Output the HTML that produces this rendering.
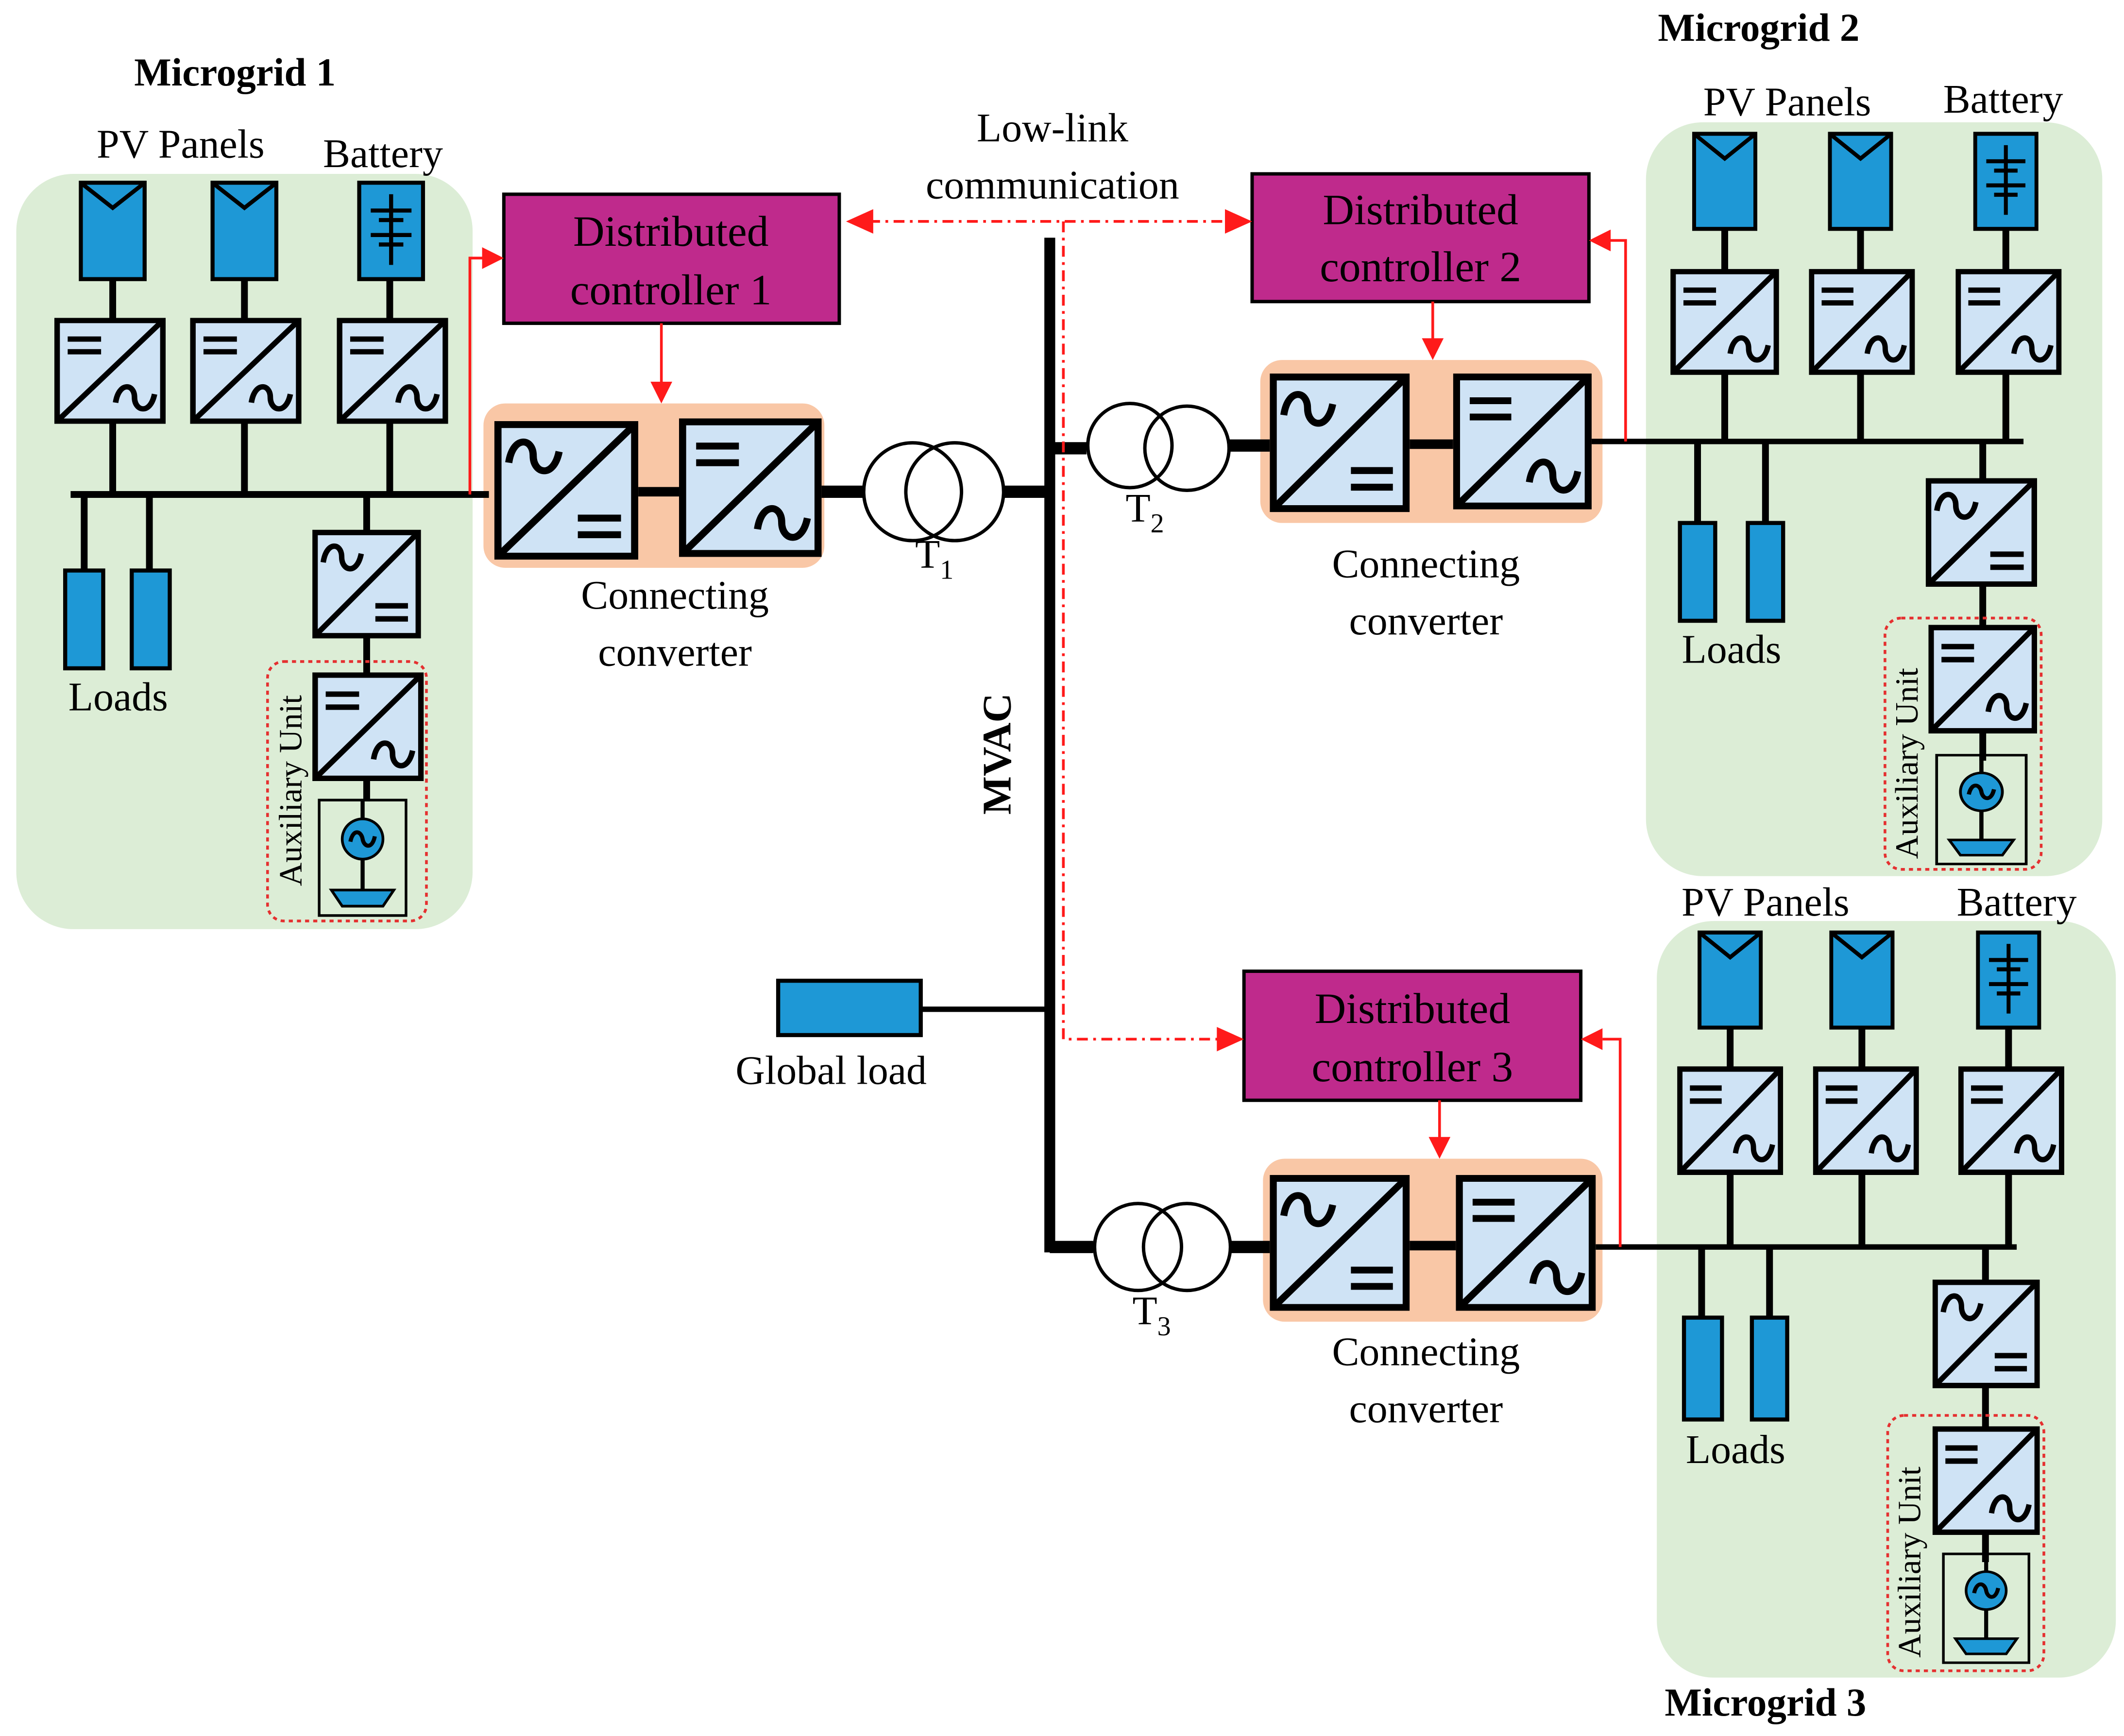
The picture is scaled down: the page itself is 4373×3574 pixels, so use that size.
<!DOCTYPE html>
<html><head><meta charset="utf-8"><style>html,body{margin:0;padding:0;background:#fff}svg{display:block}</style></head>
<body>
<svg width="4373" height="3574" viewBox="0 0 1564 1278" preserveAspectRatio="none" xmlns="http://www.w3.org/2000/svg" font-family="'Liberation Serif',serif">
<defs>
<symbol id="dcac" viewBox="0 0 100 100" preserveAspectRatio="none">
<rect x="2.5" y="2.5" width="95" height="95" fill="#cfe3f5" stroke="#000" stroke-width="5"/>
<line x1="2" y1="98" x2="98" y2="2" stroke="#000" stroke-width="5"/>
<line x1="12" y1="20" x2="42" y2="20" stroke="#000" stroke-width="5"/>
<line x1="12" y1="32" x2="42" y2="32" stroke="#000" stroke-width="5"/>
<path d="M55,80 C58,60 72,62 72,75 S86,92 90,72" fill="none" stroke="#000" stroke-width="5"/>
</symbol>
<symbol id="acdc" viewBox="0 0 100 100" preserveAspectRatio="none">
<rect x="2.5" y="2.5" width="95" height="95" fill="#cfe3f5" stroke="#000" stroke-width="5"/>
<line x1="2" y1="98" x2="98" y2="2" stroke="#000" stroke-width="5"/>
<path d="M10,30 C13,10 27,12 27,25 S41,42 45,22" fill="none" stroke="#000" stroke-width="5"/>
<line x1="58" y1="70" x2="88" y2="70" stroke="#000" stroke-width="5"/>
<line x1="58" y1="82" x2="88" y2="82" stroke="#000" stroke-width="5"/>
</symbol>
<symbol id="pv" viewBox="0 0 50 74" preserveAspectRatio="none">
<rect x="1.5" y="1.5" width="47" height="71" fill="#1e98d6" stroke="#000" stroke-width="3"/>
<polyline points="2,2 25,20 48,2" fill="none" stroke="#000" stroke-width="3"/>
</symbol>
<symbol id="bat" viewBox="0 0 50 74" preserveAspectRatio="none">
<rect x="1.5" y="1.5" width="47" height="71" fill="#1e98d6" stroke="#000" stroke-width="3"/>
<line x1="25" y1="10" x2="25" y2="62" stroke="#000" stroke-width="3"/>
<line x1="10" y1="22" x2="40" y2="22" stroke="#000" stroke-width="3"/>
<line x1="16" y1="29" x2="34" y2="29" stroke="#000" stroke-width="3"/>
<line x1="10" y1="40" x2="40" y2="40" stroke="#000" stroke-width="3"/>
<line x1="16" y1="47" x2="34" y2="47" stroke="#000" stroke-width="3"/>
</symbol>
<symbol id="gen" viewBox="0 0 66 88" preserveAspectRatio="none">
<rect x="1" y="1" width="64" height="86" fill="none" stroke="#000" stroke-width="2"/>
<line x1="33" y1="0" x2="33" y2="70" stroke="#000" stroke-width="3"/>
<circle cx="33" cy="30" r="15" fill="#1e98d6" stroke="#000" stroke-width="2"/>
<path d="M24,32 C26,22 32,24 33,30 S40,38 42,28" fill="none" stroke="#000" stroke-width="3"/>
<polygon points="10,68 56,68 48,80 18,80" fill="#1e98d6" stroke="#000" stroke-width="2"/>
</symbol>
<marker id="ar" viewBox="0 0 10 10" refX="9" refY="5" markerWidth="6" markerHeight="6" orient="auto-start-reverse" markerUnits="userSpaceOnUse">
</marker>
</defs>

<!-- backgrounds -->
<rect x="12" y="128" width="336" height="556" rx="42" fill="#dcedd6"/>
<rect x="1212" y="90" width="336" height="555" rx="42" fill="#dcedd6"/>
<rect x="1220" y="678" width="338" height="557" rx="42" fill="#dcedd6"/>

<!-- orange boxes -->
<rect x="356" y="297" width="251" height="121" rx="16" fill="#f9c7a6"/>
<rect x="928" y="265" width="252" height="120" rx="16" fill="#f9c7a6"/>
<rect x="930" y="853" width="250" height="120" rx="16" fill="#f9c7a6"/>

<g stroke="#000" fill="none">
<!-- MG1 wiring -->
<line x1="52" y1="364" x2="360" y2="364" stroke-width="5"/>
<line x1="83" y1="205" x2="83" y2="364" stroke-width="5"/>
<line x1="180" y1="205" x2="180" y2="364" stroke-width="5"/>
<line x1="287" y1="205" x2="287" y2="364" stroke-width="5"/>
<line x1="62" y1="364" x2="62" y2="420" stroke-width="5"/>
<line x1="110" y1="364" x2="110" y2="420" stroke-width="5"/>
<line x1="270" y1="364" x2="270" y2="590" stroke-width="5"/>
<line x1="470" y1="362" x2="500" y2="362" stroke-width="7"/>
<line x1="605" y1="362" x2="636" y2="362" stroke-width="9"/>
<line x1="738" y1="362" x2="773" y2="362" stroke-width="9"/>
<!-- MVAC -->
<line x1="773" y1="175" x2="773" y2="922" stroke-width="8"/>
<line x1="678" y1="743" x2="773" y2="743" stroke-width="4"/>
<!-- T2 -->
<line x1="773" y1="330" x2="800" y2="330" stroke-width="9"/>
<line x1="905" y1="328" x2="935" y2="328" stroke-width="9"/>
<line x1="1038" y1="327" x2="1070" y2="327" stroke-width="7"/>
<line x1="1172" y1="325" x2="1490" y2="325" stroke-width="4"/>
<line x1="1270" y1="168" x2="1270" y2="325" stroke-width="5"/>
<line x1="1370" y1="168" x2="1370" y2="325" stroke-width="5"/>
<line x1="1477" y1="168" x2="1477" y2="325" stroke-width="5"/>
<line x1="1250" y1="325" x2="1250" y2="385" stroke-width="5"/>
<line x1="1300" y1="325" x2="1300" y2="385" stroke-width="5"/>
<line x1="1460" y1="325" x2="1460" y2="560" stroke-width="5"/>
<!-- T3 -->
<line x1="773" y1="918" x2="805" y2="918" stroke-width="9"/>
<line x1="905" y1="918" x2="935" y2="918" stroke-width="9"/>
<line x1="1038" y1="917" x2="1072" y2="917" stroke-width="7"/>
<line x1="1175" y1="918" x2="1485" y2="918" stroke-width="4"/>
<line x1="1274" y1="756" x2="1274" y2="918" stroke-width="5"/>
<line x1="1371" y1="756" x2="1371" y2="918" stroke-width="5"/>
<line x1="1479" y1="756" x2="1479" y2="918" stroke-width="5"/>
<line x1="1253" y1="918" x2="1253" y2="970" stroke-width="5"/>
<line x1="1303" y1="918" x2="1303" y2="970" stroke-width="5"/>
<line x1="1462" y1="918" x2="1462" y2="1150" stroke-width="5"/>
<!-- transformers -->
<g stroke-width="2.5">
<circle cx="672" cy="362" r="36"/><circle cx="703" cy="362" r="36"/>
<circle cx="832" cy="328" r="31"/><circle cx="874" cy="330" r="31"/>
<circle cx="838" cy="918" r="32"/><circle cx="874" cy="918" r="32"/>
</g>
</g>

<!-- sources -->
<use href="#pv" x="58" y="133" width="50" height="74"/>
<use href="#pv" x="155" y="133" width="50" height="74"/>
<use href="#bat" x="263" y="133" width="50" height="74"/>
<use href="#pv" x="1246" y="97" width="48" height="73"/>
<use href="#pv" x="1346" y="97" width="48" height="73"/>
<use href="#bat" x="1453" y="97" width="48" height="73"/>
<use href="#pv" x="1250" y="685" width="48" height="73"/>
<use href="#pv" x="1347" y="685" width="48" height="73"/>
<use href="#bat" x="1455" y="685" width="48" height="73"/>

<!-- converters -->
<use href="#dcac" x="40" y="234" width="82" height="78"/>
<use href="#dcac" x="140" y="234" width="82" height="78"/>
<use href="#dcac" x="248" y="234" width="82" height="78"/>
<use href="#acdc" x="230" y="390" width="80" height="80"/>
<use href="#dcac" x="230" y="495" width="82" height="80"/>
<use href="#acdc" x="364" y="310" width="106" height="102"/>
<use href="#dcac" x="500" y="308" width="105" height="102"/>
<use href="#dcac" x="1230" y="198" width="80" height="78"/>
<use href="#dcac" x="1332" y="198" width="78" height="78"/>
<use href="#dcac" x="1440" y="198" width="78" height="78"/>
<use href="#acdc" x="1418" y="352" width="82" height="80"/>
<use href="#dcac" x="1420" y="460" width="80" height="80"/>
<use href="#acdc" x="935" y="275" width="103" height="102"/>
<use href="#dcac" x="1070" y="275" width="102" height="100"/>
<use href="#dcac" x="1235" y="785" width="78" height="80"/>
<use href="#dcac" x="1335" y="785" width="78" height="80"/>
<use href="#dcac" x="1442" y="785" width="78" height="80"/>
<use href="#acdc" x="1423" y="942" width="79" height="80"/>
<use href="#dcac" x="1423" y="1050" width="79" height="80"/>
<use href="#acdc" x="935" y="865" width="103" height="100"/>
<use href="#dcac" x="1072" y="865" width="103" height="100"/>

<!-- generators -->
<use href="#gen" x="234" y="588" width="66" height="87"/>
<use href="#gen" x="1425" y="555" width="68" height="82"/>
<use href="#gen" x="1430" y="1143" width="65" height="82"/>

<!-- loads -->
<g fill="#1e98d6" stroke="#000" stroke-width="3">
<rect x="48" y="420" width="28" height="72"/><rect x="97" y="420" width="28" height="72"/>
<rect x="1237" y="385" width="26" height="72"/><rect x="1287" y="385" width="26" height="72"/>
<rect x="1240" y="970" width="28" height="75"/><rect x="1290" y="970" width="26" height="75"/>
<rect x="573" y="722" width="105" height="40"/>
</g>

<!-- aux dashed -->
<g fill="none" stroke="#e53030" stroke-width="2" stroke-dasharray="3,3">
<rect x="197" y="487" width="117" height="191" rx="12"/>
<rect x="1388" y="455" width="115" height="185" rx="12"/>
<rect x="1390" y="1042" width="115" height="188" rx="12"/>
</g>

<!-- controllers -->
<g fill="#bf2a8c" stroke="#000" stroke-width="2.5">
<rect x="371" y="143" width="247" height="95"/>
<rect x="922" y="128" width="248" height="94"/>
<rect x="916" y="715" width="248" height="95"/>
</g>

<!-- red control lines -->
<g stroke="#ff1a1a" stroke-width="2" fill="none">
<polyline points="346,364 346,190 360,190"/>
<line x1="487" y1="238" x2="487" y2="285"/>
<polyline points="1197,325 1197,177 1185,177"/>
<line x1="1055" y1="222" x2="1055" y2="253"/>
<polyline points="1193,918 1193,765 1180,765"/>
<line x1="1060" y1="810" x2="1060" y2="840"/>
<g stroke-dasharray="8,4,2,4">
<line x1="640" y1="163" x2="905" y2="163"/>
<polyline points="783,163 783,765 900,765"/>
</g>
</g>
<g fill="#ff1a1a">
<polygon points="371,190 355,182 355,198"/>
<polygon points="487,297 479,281 495,281"/>
<polygon points="1170,177 1186,169 1186,185"/>
<polygon points="1055,265 1047,249 1063,249"/>
<polygon points="1164,765 1180,757 1180,773"/>
<polygon points="1060,853 1052,837 1068,837"/>
<polygon points="623,163 643,154 643,172"/>
<polygon points="922,163 902,154 902,172"/>
<polygon points="916,765 896,756 896,774"/>
</g>

<!-- texts -->
<g font-size="30" fill="#000" text-anchor="middle">
<text x="173" y="63" font-weight="bold" font-size="29">Microgrid 1</text>
<text x="133" y="116">PV Panels</text>
<text x="282" y="123">Battery</text>
<text x="87" y="523">Loads</text>
<text x="497" y="448">Connecting</text>
<text x="497" y="490">converter</text>
<text x="494" y="181" font-size="32">Distributed</text>
<text x="494" y="224" font-size="32">controller 1</text>
<text x="1046" y="165" font-size="32">Distributed</text>
<text x="1046" y="207" font-size="32">controller 2</text>
<text x="1040" y="753" font-size="32">Distributed</text>
<text x="1040" y="796" font-size="32">controller 3</text>
<text x="775" y="104">Low-link</text>
<text x="775" y="146">communication</text>
<text x="688" y="418">T<tspan font-size="20" dy="8">1</tspan></text>
<text x="843" y="384">T<tspan font-size="20" dy="8">2</tspan></text>
<text x="848" y="975">T<tspan font-size="20" dy="8">3</tspan></text>
<text x="612" y="798">Global load</text>
<text transform="translate(744,555) rotate(-90)" font-weight="bold" font-size="30">MVAC</text>
<text x="1295" y="30" font-weight="bold" font-size="29">Microgrid 2</text>
<text x="1316" y="85">PV Panels</text>
<text x="1475" y="83">Battery</text>
<text x="1050" y="425">Connecting</text>
<text x="1050" y="467">converter</text>
<text x="1275" y="488">Loads</text>
<text x="1300" y="674">PV Panels</text>
<text x="1485" y="674">Battery</text>
<text x="1050" y="1005">Connecting</text>
<text x="1050" y="1047">converter</text>
<text x="1278" y="1077">Loads</text>
<text x="1300" y="1263" font-weight="bold" font-size="29">Microgrid 3</text>
<g font-size="24">
<text transform="translate(222,582) rotate(-90)">Auxiliary Unit</text>
<text transform="translate(1412,562) rotate(-90)">Auxiliary Unit</text>
<text transform="translate(1414,1150) rotate(-90)">Auxiliary Unit</text>
</g>
</g>
</svg>
</body></html>
